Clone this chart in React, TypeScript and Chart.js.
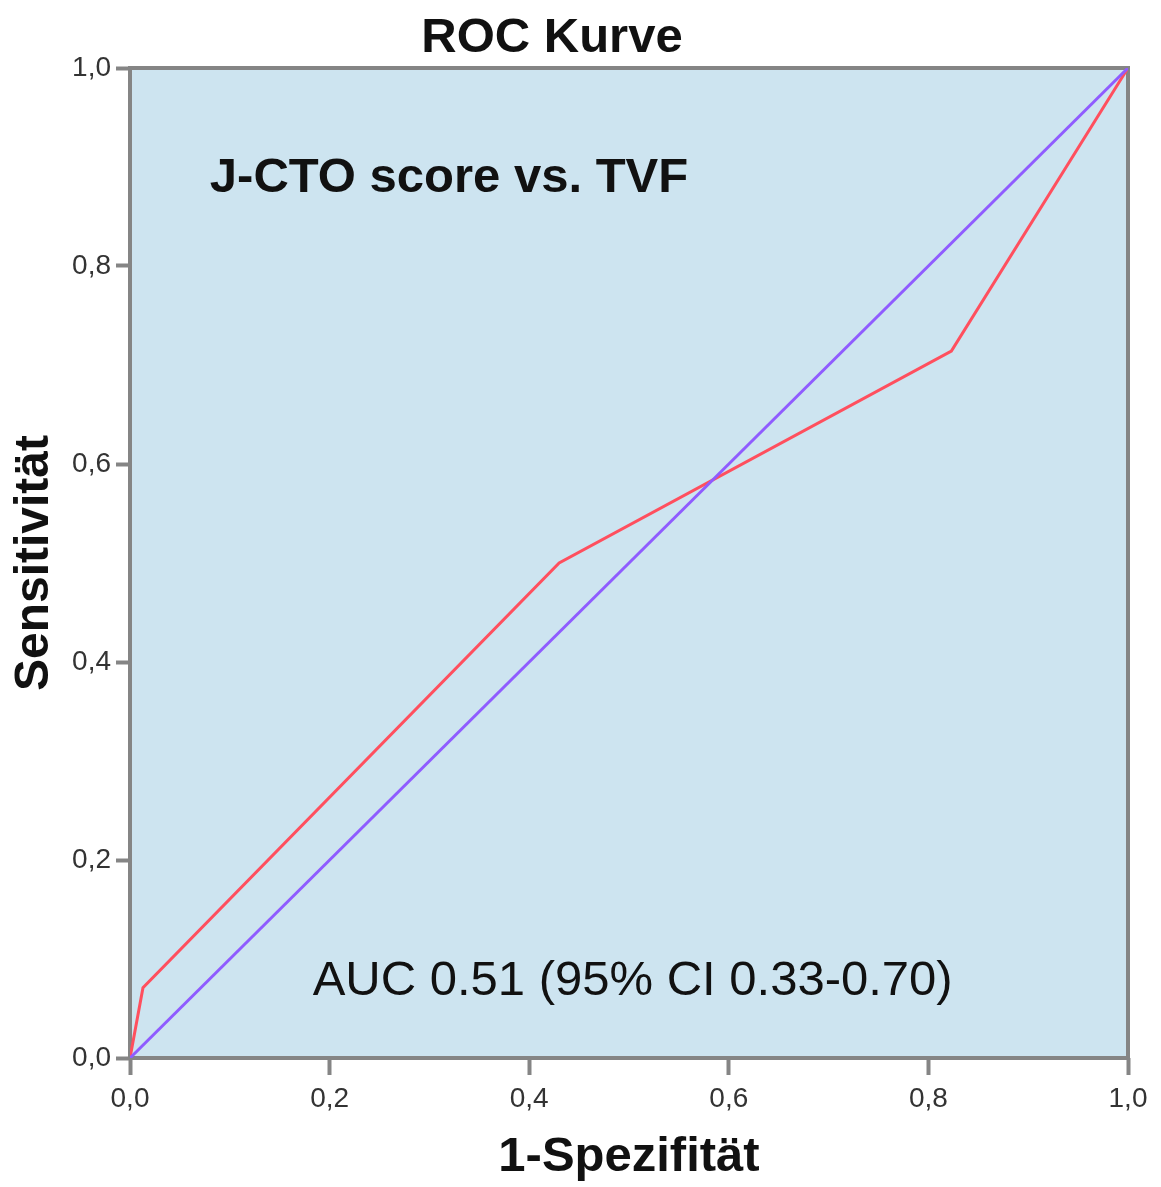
import React, { useEffect, useRef } from "react";
import { Chart, registerables } from "chart.js";

Chart.register(...registerables);

const chartTitle = "ROC Kurve";
const xAxisTitle = "1-Spezifität";
const yAxisTitle = "Sensitivität";
const subtitle = "J-CTO score vs. TVF";
const aucText = "AUC 0.51 (95% CI 0.33-0.70)";

const rocX = [0, 0.013, 0.43, 0.823, 1];
const rocY = [0, 0.071, 0.5, 0.714, 1];
const refX = [0, 1];
const refY = [0, 1];
const tickValues = [0, 0.2, 0.4, 0.6, 0.8, 1.0];

const FONT = "'Liberation Sans', Arial, Helvetica, sans-serif";

export default function App() {
  const canvasRef = useRef<HTMLCanvasElement | null>(null);

  useEffect(() => {
    const canvas = canvasRef.current;
    if (!canvas) return;

    const framePlugin = {
      id: "frameAndText",
      beforeDraw(chart: any) {
        const { ctx, chartArea } = chart;
        ctx.save();
        ctx.fillStyle = "#cde4f0";
        ctx.fillRect(chartArea.left, chartArea.top, chartArea.right - chartArea.left, chartArea.bottom - chartArea.top);
        ctx.restore();
      },
      beforeDatasetsDraw(chart: any) {
        const { ctx, chartArea } = chart;
        ctx.save();
        ctx.strokeStyle = "#858585";
        ctx.lineWidth = 4;
        ctx.strokeRect(chartArea.left, chartArea.top, chartArea.right - chartArea.left, chartArea.bottom - chartArea.top);
        ctx.restore();
      },
      afterDatasetsDraw(chart: any) {
        const { ctx, scales } = chart;
        const xs = scales.x;
        const ys = scales.y;
        ctx.save();
        ctx.fillStyle = "#111";
        ctx.textBaseline = "alphabetic";
        ctx.textAlign = "left";
        ctx.font = `bold 49px ${FONT}`;
        ctx.fillText(subtitle, xs.getPixelForValue(0.08), ys.getPixelForValue(0.875));
        ctx.font = `49px ${FONT}`;
        ctx.fillText(aucText, xs.getPixelForValue(0.183), ys.getPixelForValue(0.064));
        ctx.textAlign = "center";
        ctx.font = `bold 49px ${FONT}`;
        ctx.fillText(chartTitle, 552, 52);
        ctx.restore();
      },
    };

    const chart = new Chart(canvas, {
      type: "scatter",
      data: {
        datasets: [
          {
            label: "Referenzlinie",
            data: refX.map((x, i) => ({ x, y: refY[i] })),
            showLine: true,
            borderColor: "#8f5cff",
            borderWidth: 3,
            pointRadius: 0,
          },
          {
            label: "J-CTO score",
            data: rocX.map((x, i) => ({ x, y: rocY[i] })),
            showLine: true,
            borderColor: "#ff4f5e",
            borderWidth: 3,
            pointRadius: 0,
          },
        ],
      },
      options: {
        responsive: false,
        animation: false,
        layout: { padding: { top: 68, right: 33, left: 0, bottom: 0 } },
        plugins: {
          legend: { display: false },
          tooltip: { enabled: false },
          title: { display: false },
        },
        scales: {
          x: {
            type: "linear",
            min: 0,
            max: 1,
            afterFit(scale: any) {
              scale.height = 129;
            },
            afterBuildTicks(scale: any) {
              scale.ticks = tickValues.map((v) => ({ value: v }));
            },
            border: { display: false },
            grid: {
              drawOnChartArea: false,
              drawTicks: true,
              tickLength: 17,
              tickColor: "#858585",
              tickWidth: 4,
            },
            ticks: {
              padding: 7,
              color: "#333",
              font: { family: FONT, size: 28 },
              maxRotation: 0,
              callback: (v: any) => Number(v).toFixed(1).replace(".", ","),
            },
            title: {
              display: true,
              text: xAxisTitle,
              color: "#111",
              font: { family: FONT, size: 49, weight: "bold" },
              padding: { top: 0, bottom: 0 },
            },
          },
          y: {
            type: "linear",
            min: 0,
            max: 1,
            afterFit(scale: any) {
              scale.width = 130;
            },
            afterBuildTicks(scale: any) {
              scale.ticks = tickValues.map((v) => ({ value: v }));
            },
            border: { display: false },
            grid: {
              drawOnChartArea: false,
              drawTicks: true,
              tickLength: 14,
              tickColor: "#858585",
              tickWidth: 4,
            },
            ticks: {
              padding: 5,
              color: "#333",
              font: { family: FONT, size: 28 },
              callback: (v: any) => Number(v).toFixed(1).replace(".", ","),
            },
            title: {
              display: true,
              text: yAxisTitle,
              color: "#111",
              font: { family: FONT, size: 48, weight: "bold" },
              padding: { top: 6, bottom: 0 },
            },
          },
        },
      },
      plugins: [framePlugin],
    });

    return () => chart.destroy();
  }, []);

  return (
    <div style={{ position: "absolute", left: 0, top: 0, width: 1161, height: 1187, background: "#fff" }}>
      <canvas ref={canvasRef} width={1161} height={1187} style={{ display: "block" }} />
    </div>
  );
}
